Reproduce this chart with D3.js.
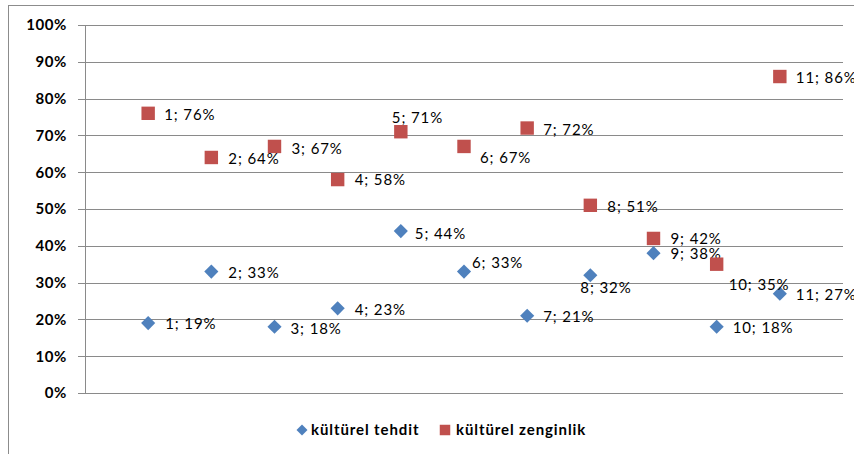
<!DOCTYPE html>
<html>
<head>
<meta charset="utf-8">
<script src="https://cdn.jsdelivr.net/npm/d3@7"></script>
<style>
  html, body { margin: 0; padding: 0; background: #fff; }
  svg { display: block; }
  text { font-family: Lato, "Open Sans", sans-serif; fill: #000; }
</style>
</head>
<body>
<svg id="chart" width="854" height="454"></svg>
<script>
// ---- data ----
const categories = [1, 2, 3, 4, 5, 6, 7, 8, 9, 10, 11];
const seriesNames = ["kültürel tehdit", "kültürel zenginlik"];
const tehdit = [19, 33, 18, 23, 44, 33, 21, 32, 38, 18, 27];
const zenginlik = [76, 64, 67, 58, 71, 67, 72, 51, 42, 35, 86];
const yTicks = [0, 10, 20, 30, 40, 50, 60, 70, 80, 90, 100];

// label placement (layout, not data): offsets of label left/middle from marker
const tehditLabelOffset = [[17,1],[17,1],[16,2],[17,1],[14,3],[8,-9],[16,1],[-10,13],[17,1],[16,1],[16,1]];
const zenginLabelOffset = [[16,1],[17,1],[17,2],[17,0],[-9,-14],[16,11],[16,2],[17,1],[17,0],[12,21],[16,1]];

const svg = d3.select("#chart");
const colors = ["#4F81BD", "#C0504D"];

// outer frame (left + top border)
svg.append("line").attr("x1", 8.5).attr("x2", 8.5).attr("y1", 5).attr("y2", 454).attr("stroke", "#8c8c8c").attr("stroke-width", 1);
svg.append("line").attr("x1", 8).attr("x2", 854).attr("y1", 5.5).attr("y2", 5.5).attr("stroke", "#8c8c8c").attr("stroke-width", 1);

const pLeft = 85, pRight = 843, pTop = 25, pBottom = 393;
const x = d3.scaleLinear().domain([0, 12]).range([pLeft, pRight]);
const y = d3.scaleLinear().domain([0, 100]).range([pBottom, pTop]);

// gridlines + y axis
const yAxis = d3.axisLeft(y).tickValues(yTicks).tickSize(-(pRight - pLeft)).tickPadding(18).tickFormat(d => d + "%");
const gY = svg.append("g").attr("transform", `translate(${pLeft},0)`).call(yAxis);
gY.select(".domain").remove();
gY.selectAll(".tick line").attr("stroke", "#8a8a8a").attr("x1", -7).attr("shape-rendering", "crispEdges");
gY.selectAll(".tick text").attr("font-size", 15).attr("font-weight", "bold").attr("fill", "#111")
  .style("font-family", "Lato, sans-serif").attr("letter-spacing", 0.6);
svg.append("line").attr("x1", pLeft + 0.5).attr("x2", pLeft + 0.5).attr("y1", pTop).attr("y2", pBottom)
  .attr("stroke", "#8a8a8a");

// series
const diamond = d3.symbol().type(d3.symbolSquare).size(100);
const square = d3.symbol().type(d3.symbolSquare).size(180);
const series = [
  { name: seriesNames[0], values: tehdit, offs: tehditLabelOffset, path: diamond, rot: 45 },
  { name: seriesNames[1], values: zenginlik, offs: zenginLabelOffset, path: square, rot: 0 }
];

series.forEach((s, si) => {
  const g = svg.append("g");
  const pts = categories.map((c, i) => ({ c, v: s.values[i], off: s.offs[i] }));
  g.selectAll("path").data(pts).enter().append("path")
    .attr("d", s.path)
    .attr("transform", d => `translate(${x(d.c)},${y(d.v)}) rotate(${s.rot})`)
    .attr("fill", colors[si]);
  g.selectAll("text").data(pts).enter().append("text")
    .attr("x", d => x(d.c) + d.off[0])
    .attr("y", d => y(d.v) + d.off[1])
    .attr("dy", "0.35em")
    .attr("font-size", 15)
    .attr("letter-spacing", 0.9)
    .text(d => `${d.c}; ${d.v}%`);
});

// legend
const legend = svg.append("g");
const legendItems = [
  { name: seriesNames[0], path: d3.symbol().type(d3.symbolSquare).size(60), rot: 45, mx: 302, tx: 311 },
  { name: seriesNames[1], path: d3.symbol().type(d3.symbolSquare).size(110), rot: 0, mx: 445, tx: 456 }
];
legendItems.forEach((it, i) => {
  legend.append("path").attr("d", it.path)
    .attr("transform", `translate(${it.mx},430) rotate(${it.rot})`).attr("fill", colors[i]);
  legend.append("text").attr("x", it.tx).attr("y", 430).attr("dy", "0.35em")
    .attr("font-size", 15).attr("font-weight", "bold").attr("letter-spacing", 0.9).text(it.name);
});
</script>
</body>
</html>
